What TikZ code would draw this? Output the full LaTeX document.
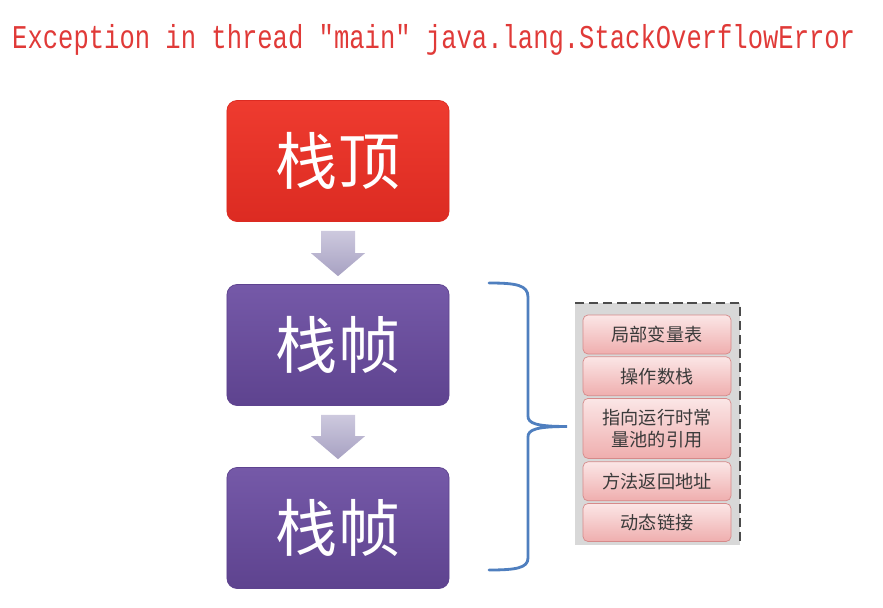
\documentclass[tikz,border=0pt]{standalone}
\usepackage{fontspec}
\setmonofont{Liberation Mono}
\newfontfamily\cjk{Noto Sans CJK SC}
\usetikzlibrary{calc,positioning}

\begin{document}
\begin{tikzpicture}[
  x=0.03cm,
  y=0.03cm,
  stackbox/.style={rounded corners=0.3cm, line width=0.6pt, minimum width=6.66cm, minimum height=3.63cm, text=white, font=\cjk\fontsize{53}{60}\selectfont},
  downarrow/.style={top color=arrowTop, bottom color=arrowBot, draw=none},
  field/.style={rounded corners=0.15cm, draw=fieldLine, line width=0.6pt, top color=fieldTop, bottom color=fieldBot, minimum width=4.44cm, minimum height=1.17cm, align=center, text=fieldText, font=\cjk\fontsize{15.5}{19}\selectfont},
]

% Colours picked from the slide
\definecolor{errRed}{HTML}{E03A38}
\definecolor{topHi}{HTML}{EE3B2F}
\definecolor{topLo}{HTML}{DC2B22}
\definecolor{frameHi}{HTML}{7559A8}
\definecolor{frameLo}{HTML}{5E438F}
\definecolor{arrowTop}{HTML}{CDC9DE}
\definecolor{arrowBot}{HTML}{A7A1C2}
\definecolor{braceBlue}{HTML}{4F7FBF}
\definecolor{panelGray}{HTML}{D8D8D8}
\definecolor{fieldTop}{HTML}{FBE6E6}
\definecolor{fieldBot}{HTML}{EFAEAE}
\definecolor{fieldLine}{HTML}{D68A8A}
\definecolor{fieldText}{HTML}{3A3A3A}

\useasboundingbox (0,0) rectangle (883,-607);

% Error message
\node[font=\ttfamily\fontsize{21.8}{24}\selectfont, text=errRed, anchor=base west, inner sep=0pt, yscale=1.3] (err) at (12,-48) {Exception in thread ″main″ java.lang.StackOverflowError};

% Stack boxes
\node[stackbox, draw=topLo, top color=topHi, bottom color=topLo] (top) at (338,-161) {栈顶};
\node[stackbox, draw=frameLo, top color=frameHi, bottom color=frameLo] (frameA) at (338,-345) {栈帧};
\node[stackbox, draw=frameLo, top color=frameHi, bottom color=frameLo] (frameB) at (338,-528) {栈帧};

% Block arrows between the boxes
\foreach \a/\b in {top/frameA, frameA/frameB} {
  \path[downarrow] ($(\a.south)+(-17,-9)$) -- ($(\a.south)+(17,-9)$) -- ($(\b.north)+(17,31)$) -- ($(\b.north)+(27,31)$)
    -- ($(\b.north)+(0,8)$) -- ($(\b.north)+(-27,31)$) -- ($(\b.north)+(-17,31)$) -- cycle;
}

% Brace
\coordinate (tip) at (567,-426.5);
\draw[braceBlue, line width=2.4pt, line cap=round] (489,-283) .. controls (516,-283) and (528,-285) .. (528,-297)
  -- (528,-416) .. controls (528,-423) and (535,-426.5) .. (tip)
  .. controls (535,-426.5) and (528,-430) .. (528,-437)
  -- (528,-558) .. controls (528,-568) and (516,-570) .. (489,-570);

% Frame contents panel
\fill[panelGray] (575,-303) rectangle (740,-545);
\draw[gray!60!black, line width=1.5pt, dash pattern=on 8pt off 4pt] (575,-303) -- (740,-303) -- (740,-545);

\node[field] (locals) at (657,-334.5) {局部变量表};
\node[field, below=0.06cm of locals] (operand) {操作数栈};
\node[field, below=0.06cm of operand, minimum height=1.8cm] (pool) {指向运行时常\\量池的引用};
\node[field, below=0.08cm of pool] (ret) {方法返回地址};
\node[field, below=0.06cm of ret, minimum height=1.14cm] (link) {动态链接};

\end{tikzpicture}
\end{document}
